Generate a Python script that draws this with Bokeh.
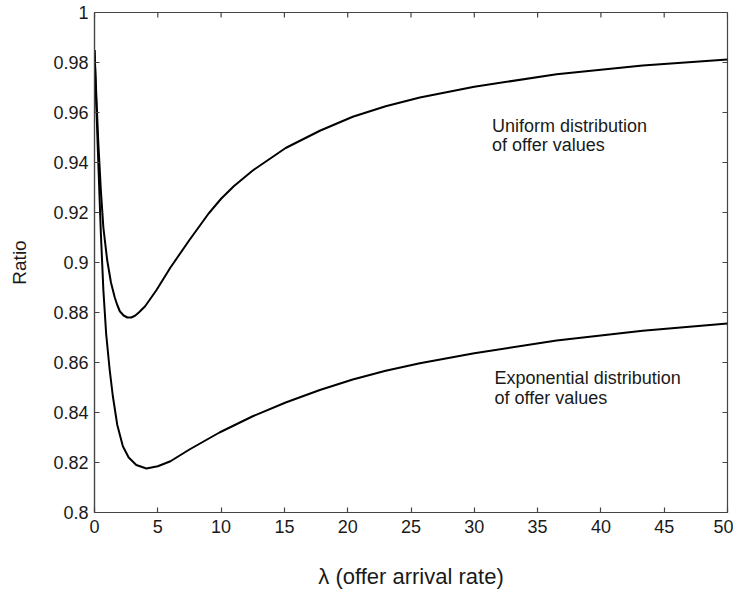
import math
from bokeh.plotting import figure
from bokeh.models import LinearAxis, FixedTicker, CustomJSTickFormatter, ColumnDataSource
from bokeh.core.properties import value
from bokeh.embed import file_html
from bokeh.resources import INLINE

# ---- data ----
lam_uniform = [0, 0.15, 0.3, 0.5, 0.7, 1.0, 1.3, 1.6, 1.8, 2.0, 2.3, 2.6, 2.9, 3.2, 3.5,
               4.0, 4.9, 6.0, 7.5, 9.0, 10.0, 11.0, 12.5, 15.1, 17.8, 20.4, 23.0, 25.7,
               30.0, 36.5, 43.3, 50]
ratio_uniform = [0.985, 0.966, 0.948, 0.929, 0.914, 0.901, 0.892, 0.886, 0.883, 0.8805,
                 0.8788, 0.8780, 0.8780, 0.8787, 0.8800, 0.8825, 0.889, 0.898, 0.909,
                 0.9195, 0.9255, 0.9305, 0.9368, 0.9458, 0.9527, 0.9583, 0.9625, 0.9660,
                 0.9703, 0.9753, 0.9788, 0.9812]

lam_expo = [0, 0.15, 0.3, 0.5, 0.7, 0.92, 1.2, 1.45, 1.8, 2.24, 2.7, 3.3, 4.1, 5.0, 6.0,
            7.5, 9.87, 12.5, 15.1, 17.8, 20.4, 23.0, 25.7, 30.0, 36.5, 43.3, 50]
ratio_expo = [0.985, 0.962, 0.940, 0.912, 0.889, 0.8715, 0.857, 0.8465, 0.835, 0.8265,
              0.822, 0.819, 0.8176, 0.8185, 0.8205, 0.8252, 0.832, 0.8385, 0.8440, 0.8490,
              0.8532, 0.8567, 0.8597, 0.8637, 0.8688, 0.8727, 0.8756]

x_ticks = [0, 5, 10, 15, 20, 25, 30, 35, 40, 45, 50]
y_ticks = [0.8, 0.82, 0.84, 0.86, 0.88, 0.9, 0.92, 0.94, 0.96, 0.98, 1.0]

label_uniform = ["Uniform distribution", "of offer values"]
label_expo = ["Exponential distribution", "of offer values"]
label_uniform_pos = (31.4, [0.9548, 0.9472])
label_expo_pos = (31.6, [0.8540, 0.8460])

x_title = "λ (offer arrival rate)"
y_title = "Ratio"

FONT = "Liberation Sans"
AXIS_COLOR = "#444444"
TEXT_COLOR = "#1a1a1a"

x_min, x_max = x_ticks[0], x_ticks[-1]
y_min, y_max = y_ticks[0], y_ticks[-1]

p = figure(frame_width=633, frame_height=500,
           min_border_left=94, min_border_right=6, min_border_top=12, min_border_bottom=70,
           x_range=(x_min, x_max), y_range=(y_min, y_max),
           output_backend="svg", toolbar_location=None,
           x_axis_location=None, y_axis_location=None)
p.grid.visible = False
p.outline_line_color = AXIS_COLOR
p.outline_line_width = 1.2
p.background_fill_color = "white"
p.border_fill_color = "white"

yfmt = CustomJSTickFormatter(code="return String(parseFloat(tick.toFixed(4)));")


def style_axis(ax):
    ax.axis_line_color = AXIS_COLOR
    ax.axis_line_width = 1.2
    ax.major_tick_line_color = AXIS_COLOR
    ax.major_tick_line_width = 1.2
    ax.major_tick_in = 5
    ax.major_tick_out = 0
    ax.minor_tick_line_color = None
    ax.major_label_text_font = FONT
    ax.major_label_text_color = TEXT_COLOR
    ax.major_label_text_font_size = "18px"
    ax.axis_label_text_font = FONT
    ax.axis_label_text_font_style = "normal"
    ax.axis_label_text_color = TEXT_COLOR


xb = LinearAxis(ticker=FixedTicker(ticks=x_ticks), axis_label=x_title)
style_axis(xb)
xb.major_label_standoff = 7
xb.axis_label_text_font_size = "22px"
xb.axis_label_standoff = 28
p.add_layout(xb, "below")

yl = LinearAxis(ticker=FixedTicker(ticks=y_ticks), formatter=yfmt, axis_label=y_title)
style_axis(yl)
yl.major_label_standoff = 6
yl.axis_label_text_font_size = "19px"
yl.axis_label_standoff = 20
p.add_layout(yl, "left")

# inward tick marks on the top and right edges of the box
p.ray(x=x_ticks, y=[y_max] * len(x_ticks), length=5, length_units="screen",
      angle=-math.pi / 2, line_color=AXIS_COLOR, line_width=1.2)
p.ray(x=[x_max] * len(y_ticks), y=y_ticks, length=5, length_units="screen",
      angle=math.pi, line_color=AXIS_COLOR, line_width=1.2)

p.line(lam_uniform, ratio_uniform, line_color="black", line_width=2, line_join="round")
p.line(lam_expo, ratio_expo, line_color="black", line_width=2, line_join="round")

for (lx, lys), texts in ((label_uniform_pos, label_uniform), (label_expo_pos, label_expo)):
    src = ColumnDataSource(dict(x=[lx] * len(texts), y=lys, t=texts))
    p.text(x="x", y="y", text="t", source=src, text_font=value(FONT),
           text_font_size="18px", text_color=TEXT_COLOR,
           text_align="left", text_baseline="middle")

open("out.html", "w").write(file_html(p, INLINE))
